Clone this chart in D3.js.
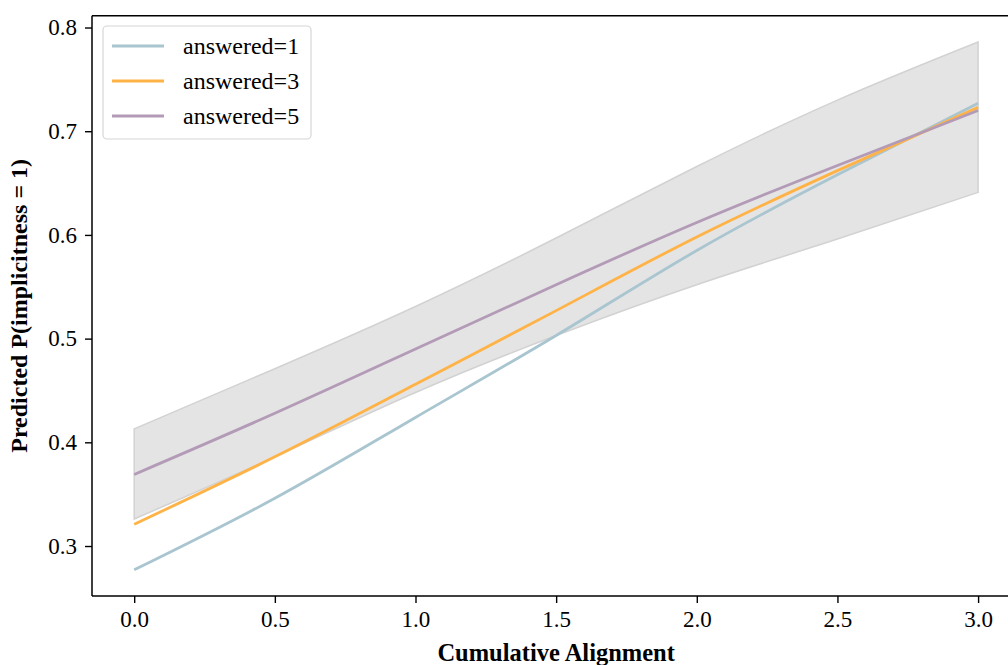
<!DOCTYPE html>
<html>
<head>
<meta charset="utf-8">
<script src="https://cdn.jsdelivr.net/npm/d3@7"></script>
<style>
  body { margin: 0; background: #fff; }
  text { font-family: "Liberation Serif", "Times New Roman", serif; }
</style>
</head>
<body>
<div id="chart"></div>
<script>
(function () {

  // values
  const alignment = [0, 0.5, 1.0, 1.5, 2.0, 2.5, 3.0]
  const answered1 = [0.277, 0.346, 0.424, 0.503, 0.585, 0.658, 0.727]
  const answered3 = [0.321, 0.386, 0.456, 0.527, 0.598, 0.662, 0.723]
  const answered5 = [0.369, 0.428, 0.490, 0.552, 0.612, 0.667, 0.720]
  const bandUpper = [0.413, 0.471, 0.531, 0.597, 0.666, 0.730, 0.786]
  const bandLower = [0.326, 0.386, 0.448, 0.503, 0.552, 0.596, 0.641]
  const seriesNames = ['answered=1', 'answered=3', 'answered=5']
  const xTicks = [0, 0.5, 1.0, 1.5, 2.0, 2.5, 3.0]
  const yTicks = [0.3, 0.4, 0.5, 0.6, 0.7, 0.8]

  const colors = ['#a9c5cf', '#ffb347', '#b39bb7']

  const W = 1008, H = 665
  const left = 92, top = 15.7, bottom = 596

  const svg = d3.select("#chart").append("svg")
      .attr("width", W)
      .attr("height", H)

  const x = d3.scaleLinear()
    .domain([-0.15, 3.15])
    .range([left, left + 3.3 * 281.3])

  const y = d3.scaleLinear()
    .domain([0.2518, 0.8114])
    .range([bottom, top])

  const band = alignment.map((a, i) => ({ a: a, lo: bandLower[i], hi: bandUpper[i] }))

  svg.append('path')
    .datum(band)
    .attr('d', d3.area()
      .x(d => x(d.a))
      .y0(d => y(d.lo))
      .y1(d => y(d.hi))
      .curve(d3.curveNatural))
    .attr('fill', '#e4e4e4')
    .attr('stroke', '#d2d2d2')
    .attr('stroke-width', 1.5)

  const series = [answered1, answered3, answered5]
  const line = d3.line()
    .x(d => x(d.a))
    .y(d => y(d.v))
    .curve(d3.curveNatural)

  series.forEach((vals, k) => {
    svg.append('path')
      .datum(alignment.map((a, i) => ({ a: a, v: vals[i] })))
      .attr('d', line)
      .attr('fill', 'none')
      .attr('stroke', colors[k])
      .attr('stroke-width', 2.8)
  })

  // axes
  const xAxis = d3.axisBottom(x).tickValues(xTicks).tickFormat(d3.format('.1f'))
    .tickSizeOuter(0).tickSize(7).tickPadding(8)
  svg.append("g")
    .attr("transform", "translate(0," + bottom + ")")
    .call(xAxis)

  const yAxis = d3.axisLeft(y).tickValues(yTicks).tickFormat(d3.format('.1f'))
    .tickSizeOuter(0).tickSize(7).tickPadding(8)
  svg.append("g")
    .attr("transform", "translate(" + left + ",0)")
    .call(yAxis)

  svg.selectAll('.domain').remove()
  svg.selectAll('.tick line').attr('stroke', '#000').attr('stroke-width', 1.4)
  svg.selectAll('.tick text')
    .attr('fill', '#000')
    .style('font-size', '23px')
    .style('font-family', '"Liberation Serif", serif')

  // spines
  svg.append('line')
    .attr('x1', left).attr('x2', W).attr('y1', top).attr('y2', top)
    .attr('stroke', '#000').attr('stroke-width', 1.5)
  svg.append('line')
    .attr('x1', left).attr('x2', W).attr('y1', bottom).attr('y2', bottom)
    .attr('stroke', '#000').attr('stroke-width', 1.5)
  svg.append('line')
    .attr('x1', left).attr('x2', left).attr('y1', top).attr('y2', bottom)
    .attr('stroke', '#000').attr('stroke-width', 1.5)

  // axis labels
  svg.append('text')
    .attr('x', x(1.5))
    .attr('y', 661)
    .attr('text-anchor', 'middle')
    .style('font-size', '24.5px')
    .style('font-weight', 'bold')
    .text('Cumulative Alignment')

  svg.append('text')
    .attr('transform', 'translate(27,' + ((top + bottom) / 2) + ') rotate(-90)')
    .attr('text-anchor', 'middle')
    .style('font-size', '24px')
    .style('font-weight', 'bold')
    .text('Predicted P(implicitness = 1)')

  // legend
  const lg = svg.append('g')
  lg.append('rect')
    .attr('x', 103).attr('y', 26)
    .attr('width', 208).attr('height', 113)
    .attr('rx', 4)
    .attr('fill', 'rgba(255,255,255,0.8)')
    .attr('stroke', '#d6d6d6')
    .attr('stroke-width', 1.2)

  seriesNames.forEach((name, k) => {
    const yy = 46 + k * 35
    lg.append('line')
      .attr('x1', 112).attr('x2', 164)
      .attr('y1', yy).attr('y2', yy)
      .attr('stroke', colors[k])
      .attr('stroke-width', 2.8)
    lg.append('text')
      .attr('x', 183).attr('y', yy + 8)
      .style('font-size', '24px')
      .text(name)
  })

})();
</script>
</body>
</html>
